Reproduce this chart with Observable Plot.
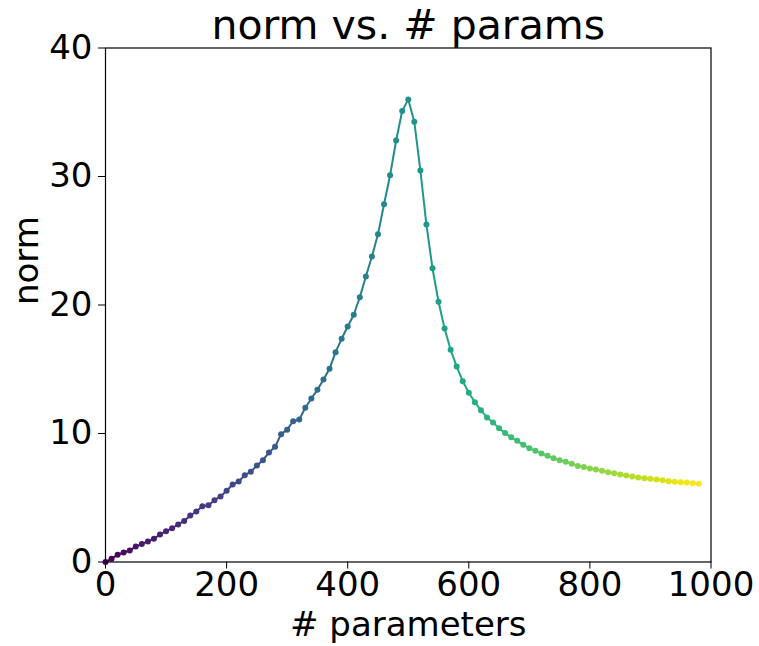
<!DOCTYPE html>
<html>
<head>
<meta charset="utf-8">
<script src="https://cdn.jsdelivr.net/npm/d3@7"></script>
<script src="https://cdn.jsdelivr.net/npm/@observablehq/plot@0.6"></script>
<style>
  html, body { margin: 0; padding: 0; background: #fff; }
  #chart svg { display: block; }
</style>
</head>
<body>
<div id="chart"></div>
<script>
const params = [0,10,20,30,40,50,60,70,80,90,100,110,120,130,140,150,160,170,180,190,
  200,210,220,230,240,250,260,270,280,290,300,310,320,330,340,350,360,370,380,390,
  400,410,420,430,440,450,460,470,480,490,500,510,520,530,540,550,560,570,580,590,
  600,610,620,630,640,650,660,670,680,690,700,710,720,730,740,750,760,770,780,790,
  800,810,820,830,840,850,860,870,880,890,900,910,920,930,940,950,960,970,980];
const norms = [0.0,0.25,0.56,0.74,0.9,1.2,1.41,1.6,1.8,2.14,
  2.4,2.63,2.92,3.2,3.62,3.93,4.34,4.42,4.81,5.1,
  5.54,6.03,6.26,6.76,7.02,7.51,7.92,8.52,8.96,9.95,
  10.3,10.96,11.09,12.0,12.72,13.4,14.2,15.03,16.33,17.37,
  18.33,19.24,20.6,22.22,23.77,25.5,27.84,30.1,32.8,35.1,
  36.0,34.26,30.47,26.26,22.86,20.25,18.17,16.51,15.21,14.07,
  13.17,12.44,11.8,11.25,10.85,10.4,10.03,9.7,9.43,9.12,
  8.86,8.65,8.44,8.26,8.08,7.92,7.8,7.64,7.48,7.4,
  7.28,7.2,7.1,6.99,6.91,6.81,6.73,6.65,6.58,6.52,
  6.47,6.42,6.37,6.29,6.24,6.21,6.19,6.13,6.09];
const xTicks = [0, 200, 400, 600, 800, 1000];
const yTicks = [0, 10, 20, 30, 40];
const titleText = "norm vs. # params";
const xLabel = "# parameters";
const yLabel = "norm";

const rows = params.map((p, i) => ({p, n: norms[i]}));
const segs = rows.slice(1).map((r, i) => ({x1: rows[i].p, y1: rows[i].n, x2: r.p, y2: r.n}));

const chart = Plot.plot({
  width: 759,
  height: 646,
  marginLeft: 105,
  marginRight: 48.5,
  marginTop: 47.5,
  marginBottom: 84.5,
  style: {fontFamily: "DejaVu Sans", color: "black", background: "white"},
  x: {domain: [0, 1000]},
  y: {domain: [0, 40]},
  color: {type: "linear", scheme: "viridis", domain: [0, 980]},
  marks: [
    Plot.axisX({ticks: xTicks, tickSize: 7, tickPadding: 3, fontSize: 34, label: null, tickFormat: d => String(d)}),
    Plot.axisY({ticks: yTicks, tickSize: 7, tickPadding: 6, fontSize: 34, label: null, tickFormat: d => String(d)}),
    Plot.link(segs, {x1: "x1", y1: "y1", x2: "x2", y2: "y2", stroke: "x1", strokeWidth: 2}),
    Plot.dot(rows, {x: "p", y: "n", fill: "p", r: 3}),
    Plot.frame({stroke: "black", strokeWidth: 1.2}),
    Plot.text([titleText], {text: d => d, frameAnchor: "top", lineAnchor: "bottom", dy: -9.5, fontSize: 41, fill: "black"}),
    Plot.text([xLabel], {text: d => d, frameAnchor: "bottom", lineAnchor: "bottom", dy: 73.5, fontSize: 34, fill: "black"}),
    Plot.text([yLabel], {text: d => d, frameAnchor: "left", lineAnchor: "bottom", rotate: -90, dx: -67.3, fontSize: 34, fill: "black"})
  ]
});
document.getElementById("chart").appendChild(chart);
</script>
</body>
</html>
